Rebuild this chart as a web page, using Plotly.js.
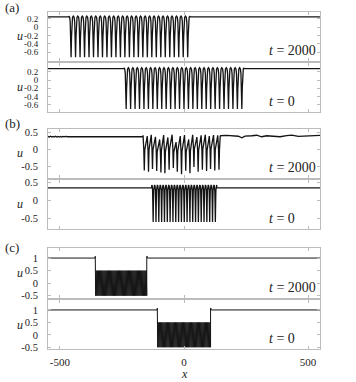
<!DOCTYPE html>
<html><head><meta charset="utf-8">
<script src="https://cdn.plot.ly/plotly-3.0.1.min.js"></script>
<style>html,body{margin:0;padding:0;background:#fff}#chart{width:356px;height:382px}</style>
</head><body><div id="chart"></div>
<script>
// ---------- data ----------
const xRange = [-548, 548];
const xTickVals = [-500, 0, 500];
const xTickText = ['-500', '0', '500'];

// (a): index 0 = t=2000, index 1 = t=0
const aTickVals = [0.2, 0, -0.2, -0.4, -0.6];
const aTickText = ['0.2', '0', '-0.2', '-0.4', '-0.6'];
const aLevel = [0.25, 0.28];
const aCrest = [0.27, 0.30];
const aTrough = [-0.72, -0.71];
const aStart = [-464, -242];
const aEnd = [24, 242];
const aTroughCount = [27, 27];
const aYRange = [[-0.80, 0.38], [-0.77, 0.43]];

// (b) t=0 regular packet
const bTickVals = [0.5, 0, -0.5];
const bTickText = ['0.5', '0', '-0.5'];
const bLevel0 = 0.35;
const bCrest0 = 0.43;
const bTrough0 = -0.60;
const bStart0 = -130;
const bEnd0 = 132;
const bTroughCount0 = 23;
// (b) t=2000 irregular packet
const bLevel2000 = 0.38;
const bRippleX = [-548, -543, -538, -533, -528, -523, -518, -513, -508, -503, -498, -493, -488, -483, -478, -473, -468];
const bRippleU = [0.39, 0.37, 0.395, 0.37, 0.39, 0.37, 0.395, 0.37, 0.39, 0.37, 0.39, 0.37, 0.39, 0.375, 0.39, 0.375, 0.38];
const bPacketStart2000 = -167;
const bTroughX = [-160, -143, -127, -110, -93, -77, -60, -43, -27, -10, 7, 24, 40, 57, 74, 91, 107, 124, 141];
const bTroughU = [-0.62, -0.66, -0.58, -0.64, -0.68, -0.70, -0.60, -0.55, -0.66, -0.73, -0.63, -0.70, -0.52, -0.66, -0.60, -0.64, -0.58, -0.62, -0.60];
const bCrestU = [0.42, 0.40, 0.44, 0.38, 0.30, 0.43, 0.36, 0.44, 0.22, 0.40, 0.43, 0.30, 0.44, 0.37, 0.42, 0.44, 0.40, 0.43, 0.42, 0.41];
const bTailX = [145, 172, 199, 219, 233, 246, 273, 293, 313, 333, 360, 387, 414, 434, 461, 481, 508, 535, 548];
const bTailU = [0.41, 0.42, 0.41, 0.395, 0.35, 0.40, 0.41, 0.425, 0.38, 0.41, 0.395, 0.38, 0.415, 0.43, 0.39, 0.40, 0.41, 0.42, 0.42];
const bYRange = [[-0.83, 0.625], [-0.78, 0.58]];

// (c): index 0 = t=2000, index 1 = t=0
const cTickVals = [1, 0.5, 0, -0.5];
const cTickText = ['1', '0.5', '0', '-0.5'];
const cLevel = [1, 1];
const cOvershoot = [1.07, 1.07];
const cCrest = [0.5, 0.5];
const cTrough = [-0.5, -0.5];
const cStart = [-356, -106];
const cEnd = [-150, 107];
const cPeriods = [46, 46];
const cYRange = [[-0.59, 1.40], [-0.57, 1.40]];

// ---------- trace builders ----------
const shapePhase = [0, 0.18, 0.3, 0.4, 0.5, 0.6, 0.7, 0.82];
const shapeNorm = [1, 0.97, 0.86, 0.5, 0, 0.5, 0.86, 0.97];

function regularPacket(level, crest, trough, x0, x1, n) {
  const xs = [xRange[0], x0], ys = [level, level];
  const P = (x1 - x0) / n;
  for (let k = 0; k < n; k++) {
    for (let j = 0; j < shapePhase.length; j++) {
      xs.push(x0 + (k + shapePhase[j]) * P);
      ys.push(trough + (crest - trough) * shapeNorm[j]);
    }
  }
  xs.push(x1, x1, xRange[1]); ys.push(crest, level, level);
  return {x: xs, y: ys};
}

function densePacket(level, over, crest, trough, x0, x1, n) {
  const xs = [xRange[0], x0 - 3, x0 - 1.5, x0], ys = [level, level, over, trough];
  const P = (x1 - x0) / n;
  for (let k = 0; k < n; k++) {
    xs.push(x0 + (k + 0.5) * P, x0 + (k + 1) * P);
    ys.push(crest, trough);
  }
  xs.push(x1, x1 + 1.5, x1 + 3, xRange[1]); ys.push(over, over, level, level);
  return {x: xs, y: ys};
}

function irregularB() {
  const xs = bRippleX.slice(), ys = bRippleU.slice();
  xs.push(bPacketStart2000); ys.push(bLevel2000);
  const P = 16.7;
  for (let i = 0; i < bTroughX.length; i++) {
    xs.push(bTroughX[i] - 0.3 * P, bTroughX[i] - 0.12 * P, bTroughX[i], bTroughX[i] + 0.12 * P);
    ys.push(bCrestU[i], (bCrestU[i] + bTroughU[i]) / 2 + 0.1, bTroughU[i], (bCrestU[i + 1] + bTroughU[i]) / 2 + 0.1);
  }
  xs.push(bTroughX[bTroughX.length - 1] + 0.3 * P); ys.push(bCrestU[bCrestU.length - 1]);
  for (let i = 0; i < bTailX.length; i++) { xs.push(bTailX[i]); ys.push(bTailU[i]); }
  return {x: xs, y: ys};
}

const series = [
  regularPacket(aLevel[0], aCrest[0], aTrough[0], aStart[0], aEnd[0], aTroughCount[0]),
  regularPacket(aLevel[1], aCrest[1], aTrough[1], aStart[1], aEnd[1], aTroughCount[1]),
  irregularB(),
  regularPacket(bLevel0, bCrest0, bTrough0, bStart0, bEnd0, bTroughCount0),
  densePacket(cLevel[0], cOvershoot[0], cCrest[0], cTrough[0], cStart[0], cEnd[0], cPeriods[0]),
  densePacket(cLevel[1], cOvershoot[1], cCrest[1], cTrough[1], cStart[1], cEnd[1], cPeriods[1])
];

const traces = series.map((s, i) => ({
  type: 'scatter', mode: 'lines', x: s.x, y: s.y,
  xaxis: i === 0 ? 'x' : 'x' + (i + 1), yaxis: i === 0 ? 'y' : 'y' + (i + 1),
  line: {color: '#141414', width: i >= 4 ? 1.0 : 1.3}, showlegend: false, hoverinfo: 'skip'
}));

// ---------- layout ----------
const SERIF = '"Liberation Serif", "DejaVu Serif", serif';
const M = {l: 48, r: 36, t: 11, b: 33};
const plotH = 382 - M.t - M.b, plotW = 356 - M.l - M.r;
const py = Y => (382 - M.b - Y) / plotH;
const px = X => (X - M.l) / plotW;
const panelPix = [[11.5, 60.5], [62.5, 111.5], [128.5, 177.5], [179.5, 228.5], [248, 298], [300, 349]];
const yRanges = [aYRange[0], aYRange[1], bYRange[0], bYRange[1], cYRange[0], cYRange[1]];
const yTV = [aTickVals, aTickVals, bTickVals, bTickVals, cTickVals, cTickVals];
const yTT = [aTickText, aTickText, bTickText, bTickText, cTickText, cTickText];
const axisGray = '#bcbcbc';

const layout = {
  width: 356, height: 382, margin: M,
  paper_bgcolor: '#fff', plot_bgcolor: '#fff',
  annotations: [], showlegend: false
};

for (let i = 0; i < 6; i++) {
  const sfx = i === 0 ? '' : String(i + 1);
  const dom = [py(panelPix[i][1]), py(panelPix[i][0])];
  layout['xaxis' + sfx] = {
    domain: [0, 1], anchor: 'y' + sfx, range: xRange,
    tickmode: 'array', tickvals: xTickVals, ticktext: xTickText,
    showticklabels: i === 5, ticks: 'inside', ticklen: 3, tickcolor: axisGray,
    showline: true, linecolor: axisGray, linewidth: 1, mirror: 'ticks',
    showgrid: false, zeroline: false,
    tickfont: {family: SERIF, size: 11, color: '#222'}, ticklabelstandoff: 3
  };
  layout['yaxis' + sfx] = {
    domain: dom, anchor: 'x' + sfx, range: yRanges[i],
    tickmode: 'array', tickvals: yTV[i], ticktext: yTT[i],
    ticks: 'inside', ticklen: 3, tickcolor: axisGray,
    showline: true, linecolor: axisGray, linewidth: 1, mirror: 'ticks',
    showgrid: false, zeroline: false,
    tickfont: {family: SERIF, size: i < 2 ? 9 : 10.5, color: '#222'}, ticklabelstandoff: 7
  };
  layout.annotations.push({
    xref: 'paper', yref: 'paper', x: px(20), y: (dom[0] + dom[1]) / 2,
    text: '<i>u</i>', showarrow: false, xanchor: 'center', yanchor: 'middle',
    font: {family: SERIF, size: 12, color: '#222'}
  });
  layout.annotations.push({
    xref: 'paper', yref: 'paper', x: px(267), y: py(panelPix[i][1] - 10.5),
    text: (i % 2 === 0) ? '<i>t</i> = 2000' : '<i>t</i> = 0', showarrow: false,
    xanchor: 'left', yanchor: 'middle',
    font: {family: SERIF, size: 14, color: '#222'}
  });
}

const panelLabels = [['(a)', 7.5], ['(b)', 123.5], ['(c)', 248]];
panelLabels.forEach(([t, yy]) => layout.annotations.push({
  xref: 'paper', yref: 'paper', x: px(3), y: py(yy), text: t, showarrow: false,
  xanchor: 'left', yanchor: 'middle', font: {family: SERIF, size: 13, color: '#222'}
}));
layout.annotations.push({
  xref: 'paper', yref: 'paper', x: px(184), y: py(374), text: '<i>x</i>', showarrow: false,
  xanchor: 'center', yanchor: 'middle', font: {family: SERIF, size: 12, color: '#222'}
});

Plotly.newPlot('chart', traces, layout, {staticPlot: true, displayModeBar: false});
</script></body></html>
